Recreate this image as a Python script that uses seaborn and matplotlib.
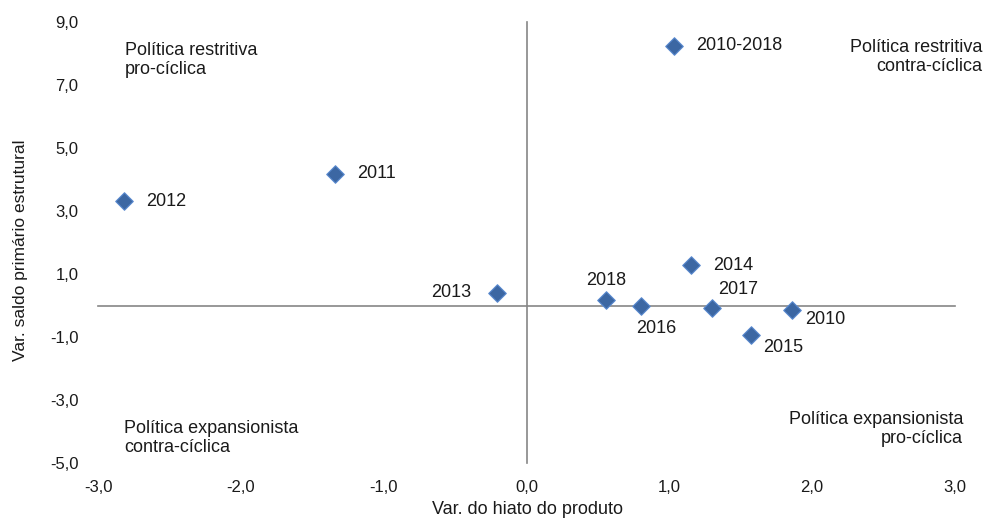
import numpy as np
import pandas as pd
import matplotlib
matplotlib.use("Agg")
import matplotlib.pyplot as plt
import seaborn as sns

# Data
labels = ["2010-2018", "2011", "2012", "2013", "2018", "2016", "2014", "2017", "2015", "2010"]
hiato = [1.03, -1.34, -2.82, -0.21, 0.56, 0.80, 1.15, 1.30, 1.57, 1.86]
saldo = [8.25, 4.19, 3.31, 0.40, 0.18, -0.03, 1.30, -0.08, -0.95, -0.14]

x_ticks = [-3, -2, -1, 0, 1, 2, 3]
y_ticks = [-5, -3, -1, 1, 3, 5, 7, 9]

df = pd.DataFrame({"ano": labels, "hiato": hiato, "saldo": saldo})

# label placement (offset in points, alignment)
label_pos = {
    "2010-2018": ((16, 0), "left"),
    "2011": ((16, 0), "left"),
    "2012": ((16, 0), "left"),
    "2013": ((-18, 0), "right"),
    "2018": ((0, 14), "center"),
    "2016": ((11, -16), "center"),
    "2014": ((16, -1), "left"),
    "2017": ((19, 13), "center"),
    "2015": ((9, -8.5), "left"),
    "2010": ((9, -7), "left"),
}

sns.set_style("white")
plt.rcParams["font.family"] = ["Liberation Sans", "DejaVu Sans"]
fs = 13
fs_tick = 12
axis_gray = "#868686"
txt = "#1a1a1a"

fig = plt.figure(figsize=(9.92, 5.21), dpi=100)
ax = fig.add_axes([98 / 992, 1 - 463 / 521, (955 - 98) / 992, (463 - 22) / 521])

sns.scatterplot(data=df, x="hiato", y="saldo", marker="D", s=80,
                color="#3c67a3", edgecolor="#5a8ad0", linewidth=0.8,
                ax=ax, zorder=3, legend=False)

for _, r in df.iterrows():
    off, ha = label_pos[r["ano"]]
    ax.annotate(r["ano"], (r["hiato"], r["saldo"]), xytext=off,
                textcoords="offset points", ha=ha, va="center",
                fontsize=fs, color=txt)

ax.set_xlim(-3, 3)
ax.set_ylim(-5, 9)
ax.set_xlabel("")
ax.set_ylabel("")
for s in ["top", "right"]:
    ax.spines[s].set_visible(False)
for s in ["left", "bottom"]:
    ax.spines[s].set_position(("data", 0))
    ax.spines[s].set_color(axis_gray)
    ax.spines[s].set_linewidth(1.2)
ax.set_xticks(x_ticks)
ax.set_yticks(y_ticks)
ax.tick_params(axis="both", direction="out", length=4, width=1.2,
               color=axis_gray, labelbottom=False, labelleft=False)

# tick labels along the outer edges
fmt = lambda v: f"{v:.1f}".replace(".", ",")
sec_y = ax.secondary_yaxis("left")
sec_y.set_yticks(y_ticks)
sec_y.set_yticklabels([fmt(v) for v in y_ticks], fontsize=fs_tick, color=txt)
sec_y.tick_params(length=0, pad=14)
sec_y.spines["left"].set_visible(False)

sec_x = ax.secondary_xaxis("bottom")
sec_x.set_xticks(x_ticks)
sec_x.set_xticklabels([fmt(v) for v in x_ticks], fontsize=fs_tick, color=txt)
sec_x.tick_params(length=0, pad=12)
sec_x.spines["bottom"].set_visible(False)

fig.text(528 / 992, 1 - 510 / 521, "Var. do hiato do produto", ha="center", va="center",
         fontsize=fs, color=txt)
fig.text(21 / 992, 1 - 250 / 521, "Var. saldo primário estrutural", ha="center", va="center",
         rotation=90, fontsize=fs_tick + 0.5, color=txt)

# quadrant notes
fig.text(125 / 992, 1 - 60 / 521, "Política restritiva\npro-cíclica", ha="left", va="center",
         fontsize=fs, color=txt, linespacing=1.1)
fig.text(982 / 992, 1 - 57 / 521, "Política restritiva\ncontra-cíclica", ha="right", va="center",
         fontsize=fs, color=txt, linespacing=1.1)
fig.text(124 / 992, 1 - 438 / 521, "Política expansionista\ncontra-cíclica", ha="left", va="center",
         fontsize=fs, color=txt, linespacing=1.1)
fig.text(963 / 992, 1 - 429 / 521, "Política expansionista\npro-cíclica", ha="right", va="center",
         fontsize=fs, color=txt, linespacing=1.1)

fig.savefig("out.png", dpi=100)
